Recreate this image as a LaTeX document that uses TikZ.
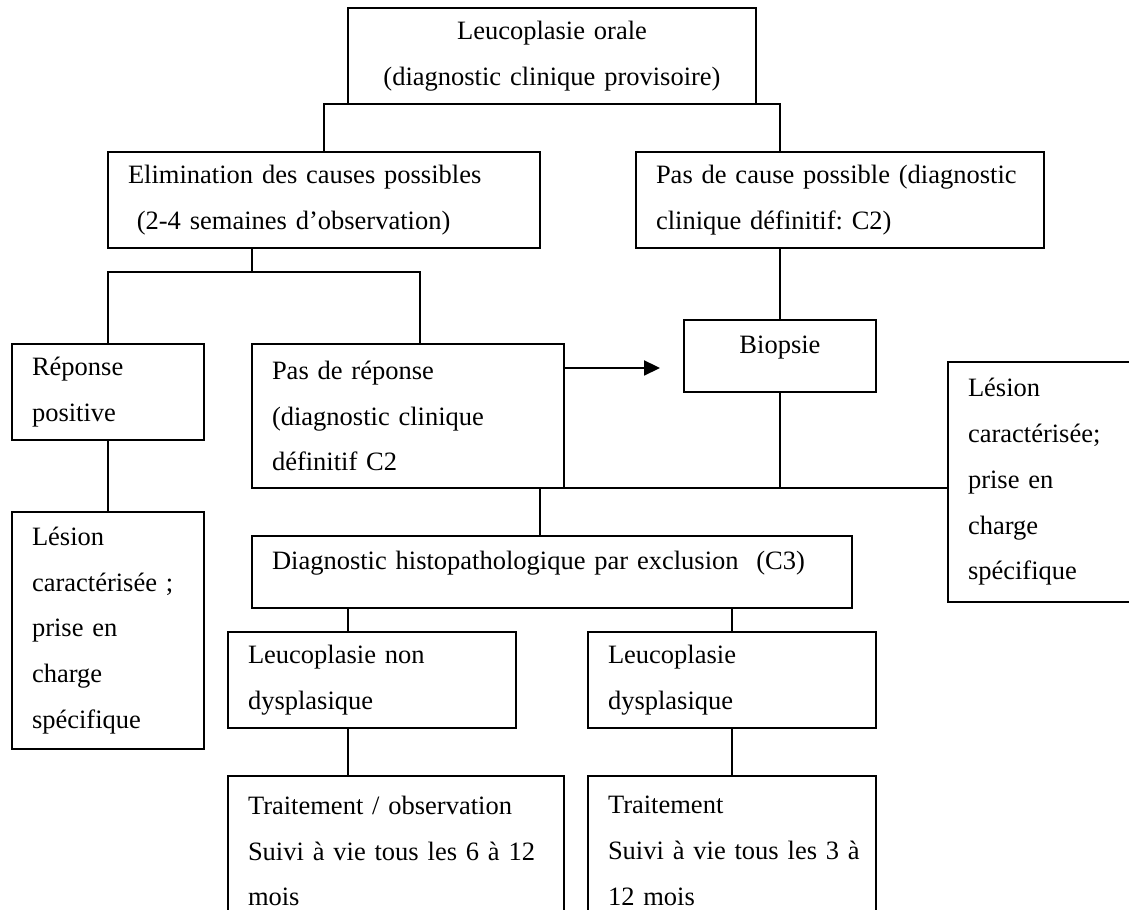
\documentclass[tikz,border=0pt]{standalone}
\usepackage{fontspec}
\setmainfont{Liberation Serif}
\usepackage{tikz}
\usetikzlibrary{arrows.meta}
\frenchspacing
\tikzset{boite/.style={draw, anchor=north west, align=left, inner xsep=9.06pt, inner ysep=0pt,
      outer sep=0pt, font=\fontsize{12pt}{20.7pt}\selectfont}}
\tikzset{fleche/.style={-{Triangle[length=7.2pt,width=6.8pt]}}}

\begin{document}
\begin{tikzpicture}[x=0.4528pt,y=-0.4528pt,line width=0.8pt]
		\useasboundingbox (0,0) rectangle (1129,910);
		\clip (0,0) rectangle (1129,910);
		\node[boite,align=center,text width=166.6pt,minimum height=43.5pt] (lo) at (348,8) {Leucoplasie orale\\(diagnostic clinique provisoire)};
		\node[boite,text width=177.5pt,minimum height=43.5pt] (elim) at (108,152) {Elimination des causes possibles\\\ (2-4 semaines d’observation)};
		\node[boite,text width=166.6pt,minimum height=43.5pt] (pasc) at (636,152) {\mbox{Pas de cause possible (diagnostic}\\clinique définitif: C2)};
		\node[boite,text width=68.8pt,minimum height=43.5pt] (rpos) at (12,344) {Réponse\\positive};
		\node[boite,text width=68.8pt,minimum height=107.3pt] (les1) at (12,512) {Lésion\\caractérisée ;\\prise en\\charge\\spécifique};
		\node[boite,text width=123.2pt,minimum height=65.2pt] (pasr) at (252,344) {Pas de réponse\\(diagnostic clinique\\définitif C2};
		\node[boite,align=center,text width=68.8pt,minimum height=32.6pt,text depth=10pt] (bio) at (684,320) {Biopsie};
		\node[boite,text width=72.4pt,minimum height=108.7pt] (les2) at (948,362) {Lésion\\caractérisée;\\prise en\\charge\\spécifique};
		\node[boite,text width=253.6pt,minimum height=32.6pt,text depth=11pt] (histo) at (252,536) {Diagnostic histopathologique par exclusion\ \ (C3)};
		\node[boite,text width=112.3pt,minimum height=43.5pt] (nondys) at (228,632) {Leucoplasie non\\dysplasique};
		\node[boite,text width=112.3pt,minimum height=43.5pt] (dys) at (588,632) {Leucoplasie\\dysplasique};
		\node[boite,text width=134.0pt,minimum height=67.9pt] (trobs) at (228,776) {Traitement / observation\\\mbox{Suivi à vie tous les 6 à 12}\\mois};
		\node[boite,text width=112.3pt,minimum height=67.9pt] (tr) at (588,776) {Traitement\\\mbox{Suivi à vie tous les 3 à}\\12 mois};
		\coordinate (jelim) at (252,272);
		\coordinate (jpasr) at (420,272);
		\coordinate (fbout) at (660,368);
		\coordinate (jhisto) at (540,488);
		\coordinate (xnondys) at (348,0);
		\draw (elim.north) -- (elim.north |- lo.south) -- (bio.north |- lo.south) -- (bio.north |- pasc.north);
		\draw (bio.north |- pasc.south) -- (bio.north);
		\draw (jelim |- elim.south) -- (jelim);
		\draw (rpos.north) -- (rpos.north |- jelim) -- (jpasr) -- (jpasr |- pasr.north);
		\draw (rpos.south) -- (les1.north);
		\draw[fleche] (pasr.east |- fbout) -- (fbout);
		\draw (bio.south) -- (bio.south |- pasr.south);
		\draw (pasr.south east) -- (les2.west |- pasr.south);
		\draw (jhisto) -- (jhisto |- histo.north);
		\draw (xnondys |- histo.south) -- (xnondys |- nondys.north);
		\draw (xnondys |- nondys.south) -- (xnondys |- trobs.north);
		\draw (dys.north |- histo.south) -- (dys.north);
		\draw (dys.south) -- (tr.north);
\end{tikzpicture}
\end{document}
